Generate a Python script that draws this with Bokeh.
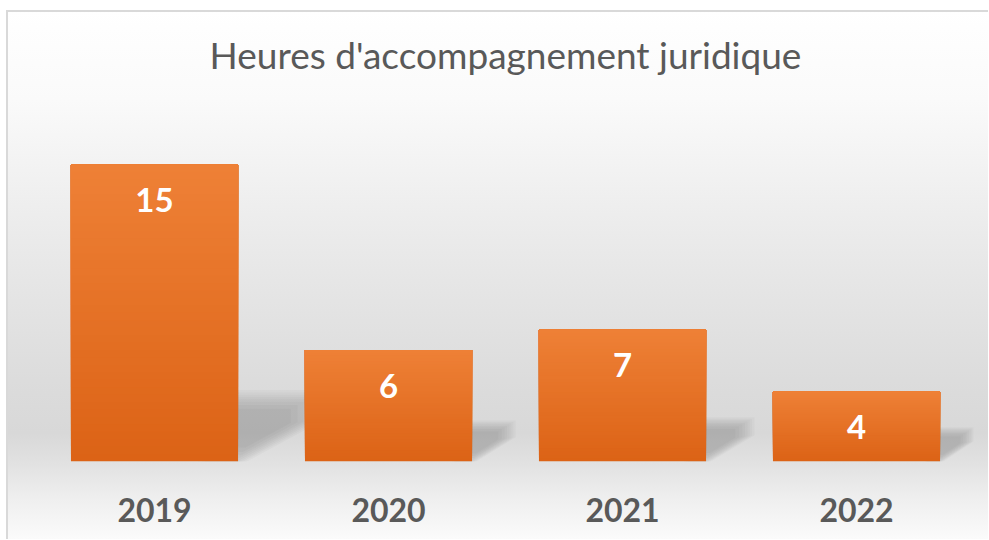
from bokeh.plotting import figure
from bokeh.models import Range1d, FixedTicker
from bokeh.core.properties import value
from bokeh.embed import file_html
from bokeh.resources import INLINE

# ---- data ----
years = ["2019", "2020", "2021", "2022"]
hours = [15, 6, 7, 4]
labels = ["15", "6", "7", "4"]
title_text = "Heures d'accompagnement juridique"

# ---- axis / style parameters ----
AXIS_MIN = 0.6
AXIS_MAX = 18.33
BAR_WIDTH = 0.714
TOP_COLOR = (238, 128, 54)
BOTTOM_COLOR = (220, 99, 22)
TEXT_GREY = "#595959"

p = figure(width=982, height=529, output_backend="svg", toolbar_location=None,
           x_range=Range1d(-0.5, 3.5), y_range=Range1d(AXIS_MIN, AXIS_MAX),
           min_border_left=31, min_border_right=15, min_border_top=85,
           min_border_bottom=78, y_axis_location=None, title=title_text)

p.background_fill_alpha = 0
p.border_fill_alpha = 0
p.outline_line_color = None
p.xgrid.grid_line_color = None
p.ygrid.grid_line_color = None
p.styles = {
    "margin-left": "6px",
    "margin-top": "10px",
    "background": "linear-gradient(to bottom, #ffffff 0%, #fafafa 17%, #ebebeb 42%, "
                  "#dcdcdc 70%, #d8d8d8 80%, #e2e2e2 86%, #eeeeee 92%, #fbfbfb 100%)",
    "box-shadow": "inset 2px 2px 0 #d9d9d9",
}

p.title.align = "center"
p.title.text_font = "Lato"
p.title.text_font_size = "37px"
p.title.text_font_style = "normal"
p.title.text_color = TEXT_GREY
p.title.standoff = 38

ax = p.xaxis[0]
ax.ticker = FixedTicker(ticks=list(range(len(years))))
ax.major_label_overrides = {i: y for i, y in enumerate(years)}
ax.axis_line_color = None
ax.major_tick_line_color = None
ax.minor_tick_line_color = None
ax.major_label_text_font = "Lato"
ax.major_label_text_font_size = "32px"
ax.major_label_text_font_style = "bold"
ax.major_label_text_color = TEXT_GREY
ax.major_label_standoff = 30

# ---- soft shadows behind bars ----
sxs, sys, salpha = [], [], []
for i, v in enumerate(hours):
    xr = i + BAR_WIDTH / 2
    hs = 1.0 + 0.15 * (v - AXIS_MIN)
    dx = 0.065 + 0.018 * (v - AXIS_MIN)
    y0 = AXIS_MIN
    core_x = [xr - 0.4 * dx, xr - 0.4 * dx, xr + dx, xr + dx, xr]
    core_y = [y0, y0 + hs, y0 + hs, y0 + 0.63 * hs, y0]
    cx = sum(core_x) / len(core_x)
    cy = sum(core_y) / len(core_y)
    for f in [1.2, 1.12, 1.05, 0.98, 0.9, 0.82, 0.72, 0.6]:
        sxs.append([cx + (x - cx) * f for x in core_x])
        sys.append([cy + (y - cy) * f for y in core_y])
        salpha.append(0.022)
p.patches(xs=sxs, ys=sys, fill_color="black", fill_alpha=salpha, line_color=None)

# ---- gradient bars (stacked slices) ----
N = 40
bx, bb, bt, bc = [], [], [], []
for i, v in enumerate(hours):
    for j in range(N):
        t = j / (N - 1)
        r = round(BOTTOM_COLOR[0] + (TOP_COLOR[0] - BOTTOM_COLOR[0]) * t)
        g = round(BOTTOM_COLOR[1] + (TOP_COLOR[1] - BOTTOM_COLOR[1]) * t)
        b = round(BOTTOM_COLOR[2] + (TOP_COLOR[2] - BOTTOM_COLOR[2]) * t)
        bx.append(i)
        bb.append(AXIS_MIN + (v - AXIS_MIN) * j / N)
        bt.append(v)
        bc.append("#%02x%02x%02x" % (r, g, b))
p.vbar(x=bx, bottom=bb, top=bt, width=BAR_WIDTH, fill_color=bc, line_color=None)

# ---- data labels ----
p.text(x=list(range(len(hours))), y=hours, text=labels, y_offset=36,
       text_align="center", text_baseline="middle",
       text_font=value("Lato"), text_font_size="33px", text_font_style="bold",
       text_color="white")

open("out.html", "w").write(file_html(p, INLINE))
